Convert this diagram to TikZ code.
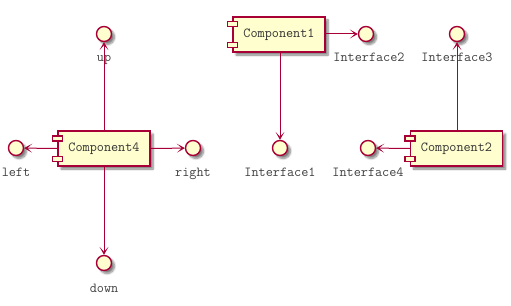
\documentclass[tikz,border=0pt]{standalone}
\usetikzlibrary{arrows.meta,calc,shadows.blur}
\definecolor{umlred}{HTML}{A80036}
\definecolor{umlfill}{HTML}{FEFECE}
\tikzset{
  x=1pt, y=-1pt,
  umlfont/.style={font=\ttfamily\fontsize{13.8}{16}\selectfont},
  umlshadow/.style={blur shadow={shadow xshift=3pt, shadow yshift=-3pt, shadow opacity=50, shadow blur steps=6, shadow blur radius=2pt}},
  comp/.style={draw=umlred, fill=umlfill, line width=1.4pt, minimum width=92pt,
    minimum height=35pt, inner sep=0pt, umlfont, text=black!80, umlshadow},
  comptab/.style={draw=umlred, fill=umlfill, line width=1.4pt, minimum width=10pt,
    minimum height=5pt, inner sep=0pt},
  iface/.style={circle, draw=umlred, fill=umlfill, line width=1.4pt, minimum size=15pt,
    inner sep=0pt, umlshadow},
  lbl/.style={anchor=base, inner sep=0pt, umlfont, text=black!75},
  arr/.style={draw=umlred, line width=1pt, -{Stealth[length=8pt,width=9pt,inset=5pt]}}
}
\newcommand\comptabs[1]{%
  \node[comptab] (#1tA) at ($(#1.north west)+(0,8)$) {};
  \node[comptab] (#1tB) at ($(#1.south west)+(0,-7.5)$) {};
}
\begin{document}
\begin{tikzpicture}
\useasboundingbox (0,0) rectangle (511,305);

% components
\node[comp] (c4) at (104,148.5) {Component4};
\node[comp] (c1) at (279,34.5) {Component1};
\node[comp] (c2) at (456.5,148.5) {Component2};

% interfaces
\node[iface] (left)  at (16,148) {};
\node[iface] (right) at (193,148) {};
\node[iface] (up)    at (104,34) {};
\node[iface] (down)  at (104,263) {};
\node[iface] (i2)    at (366,34) {};
\node[iface] (i1)    at (280,148) {};
\node[iface] (i4)    at (368,148) {};
\node[iface] (i3)    at (457,34) {};

% interface labels
\node[lbl] (leftL)  at ($(left)+(0,28)$) {left};
\node[lbl] (rightL) at ($(right)+(0,28)$) {right};
\node[lbl] (upL)    at ($(up)+(0,28)$) {up};
\node[lbl] (downL)  at ($(down)+(0,29)$) {down};
\node[lbl] (i2L)    at ($(i2)+(3,28)$) {Interface2};
\node[lbl] (i1L)    at ($(i1)+(0,28)$) {Interface1};
\node[lbl] (i4L)    at ($(i4)+(0,28)$) {Interface4};
\node[lbl] (i3L)    at ($(i3)+(0,28)$) {Interface3};

% connectors
\draw[arr] (c4.west) -- (left);
\draw[arr] (c4.east) -- (right);
\draw[arr] (c4.north) -- (up);
\draw[arr] (c4.south) -- (down);
\draw[arr] (c1.east |- i2) -- (i2);
\draw[arr] (c1.south -| i1) -- (i1);
\draw[arr] (c2.west) -- (i4);
\draw[arr] (c2.north -| i3) -- (i3);

% component tabs
\comptabs{c4}
\comptabs{c1}
\comptabs{c2}
\end{tikzpicture}
\end{document}
